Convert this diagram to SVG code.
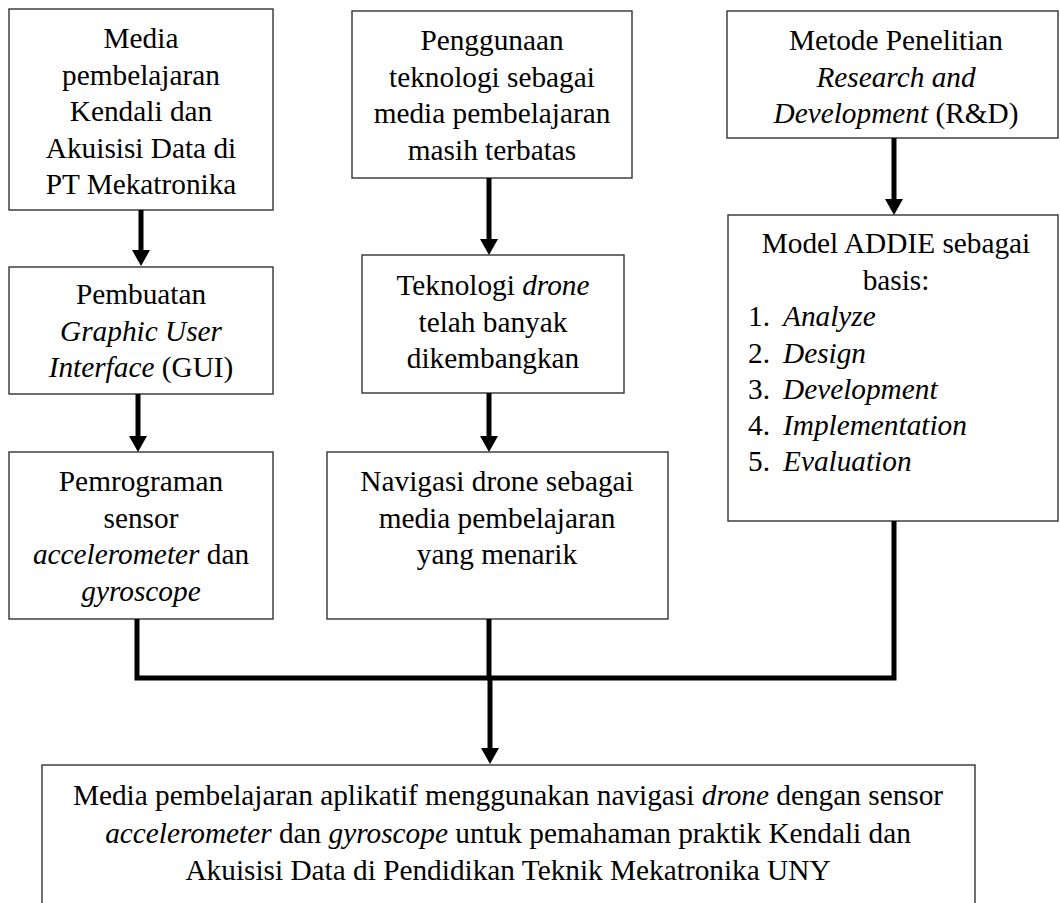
<svg xmlns="http://www.w3.org/2000/svg" width="1060" height="903" viewBox="0 0 1060 903">
<style>
.box{fill:#fff;stroke:#333;stroke-width:1.4}
.t{font-family:"Liberation Serif","Times New Roman",serif;font-size:29.3px;fill:#000}
.c{text-anchor:middle}
.i{font-style:italic}
.conn{fill:none;stroke:#000;stroke-width:5}
</style>
<defs>
<marker id="ah" viewBox="0 0 16 18" refX="0" refY="9" markerWidth="16" markerHeight="18" markerUnits="userSpaceOnUse" orient="auto">
<path d="M0,0 L16,9 L0,18 z" fill="#000"/>
</marker>
</defs>
<rect width="1060" height="903" fill="#fff"/>

<g id="n1">
<rect class="box" x="9" y="9" width="264" height="201"/>
<text class="t c" x="141" y="48">Media</text>
<text class="t c" x="141" y="84.5">pembelajaran</text>
<text class="t c" x="141" y="121">Kendali dan</text>
<text class="t c" x="141" y="157.5">Akuisisi Data di</text>
<text class="t c" x="141" y="194">PT Mekatronika</text>
</g>

<g id="n2">
<rect class="box" x="9" y="267" width="264" height="127"/>
<text class="t c" x="141" y="304">Pembuatan</text>
<text class="t c i" x="141" y="340.5">Graphic User</text>
<text class="t c" x="141" y="377"><tspan class="i">Interface</tspan> (GUI)</text>
</g>

<g id="n3">
<rect class="box" x="9" y="452" width="264" height="167"/>
<text class="t c" x="141" y="491">Pemrograman</text>
<text class="t c" x="141" y="527.5">sensor</text>
<text class="t c" x="141" y="564"><tspan class="i">accelerometer</tspan> dan</text>
<text class="t c i" x="141" y="600.5">gyroscope</text>
</g>

<g id="n4">
<rect class="box" x="352" y="11" width="280" height="167"/>
<text class="t c" x="492" y="50">Penggunaan</text>
<text class="t c" x="492" y="86.5">teknologi sebagai</text>
<text class="t c" x="492" y="123">media pembelajaran</text>
<text class="t c" x="492" y="159.5">masih terbatas</text>
</g>

<g id="n5">
<rect class="box" x="362" y="255" width="262" height="138"/>
<text class="t c" x="493" y="295">Teknologi <tspan class="i">drone</tspan></text>
<text class="t c" x="493" y="331.5">telah banyak</text>
<text class="t c" x="493" y="368">dikembangkan</text>
</g>

<g id="n6">
<rect class="box" x="327" y="452" width="341" height="167"/>
<text class="t c" x="497" y="491">Navigasi drone sebagai</text>
<text class="t c" x="497" y="527.5">media pembelajaran</text>
<text class="t c" x="497" y="564">yang menarik</text>
</g>

<g id="n7">
<rect class="box" x="727" y="11" width="331" height="127"/>
<text class="t c" x="896" y="50">Metode Penelitian</text>
<text class="t c i" x="896" y="86.5">Research and</text>
<text class="t c" x="896" y="123"><tspan class="i">Development</tspan> (R&amp;D)</text>
</g>

<g id="n8">
<rect class="box" x="728" y="215" width="330" height="306"/>
<text class="t c" x="896" y="253">Model ADDIE sebagai</text>
<text class="t c" x="896" y="290">basis:</text>
<text class="t" x="748" y="326">1.</text><text class="t i" x="783" y="326">Analyze</text>
<text class="t" x="748" y="362.5">2.</text><text class="t i" x="783" y="362.5">Design</text>
<text class="t" x="748" y="399">3.</text><text class="t i" x="783" y="399">Development</text>
<text class="t" x="748" y="435">4.</text><text class="t i" x="783" y="435">Implementation</text>
<text class="t" x="748" y="471">5.</text><text class="t i" x="783" y="471">Evaluation</text>
</g>

<g id="n9">
<rect class="box" x="42" y="765" width="933" height="140"/>
<text class="t c" x="508" y="805">Media pembelajaran aplikatif menggunakan navigasi <tspan class="i">drone</tspan> dengan sensor</text>
<text class="t c" x="508" y="843"><tspan class="i">accelerometer</tspan> dan <tspan class="i">gyroscope</tspan> untuk pemahaman praktik Kendali dan</text>
<text class="t c" x="508" y="880">Akuisisi Data di Pendidikan Teknik Mekatronika UNY</text>
</g>

<g id="connectors">
<line class="conn" x1="141" y1="210" x2="141" y2="250" marker-end="url(#ah)"/>
<line class="conn" x1="138" y1="394" x2="138" y2="436" marker-end="url(#ah)"/>
<line class="conn" x1="489" y1="178" x2="489" y2="239" marker-end="url(#ah)"/>
<line class="conn" x1="489" y1="393" x2="489" y2="436" marker-end="url(#ah)"/>
<line class="conn" x1="894" y1="138" x2="894" y2="199" marker-end="url(#ah)"/>
<path class="conn" d="M137,619 V678 H894 V521"/>
<line class="conn" x1="489" y1="619" x2="489" y2="678"/>
<line class="conn" x1="490" y1="678" x2="490" y2="748" marker-end="url(#ah)"/>
</g>
</svg>
